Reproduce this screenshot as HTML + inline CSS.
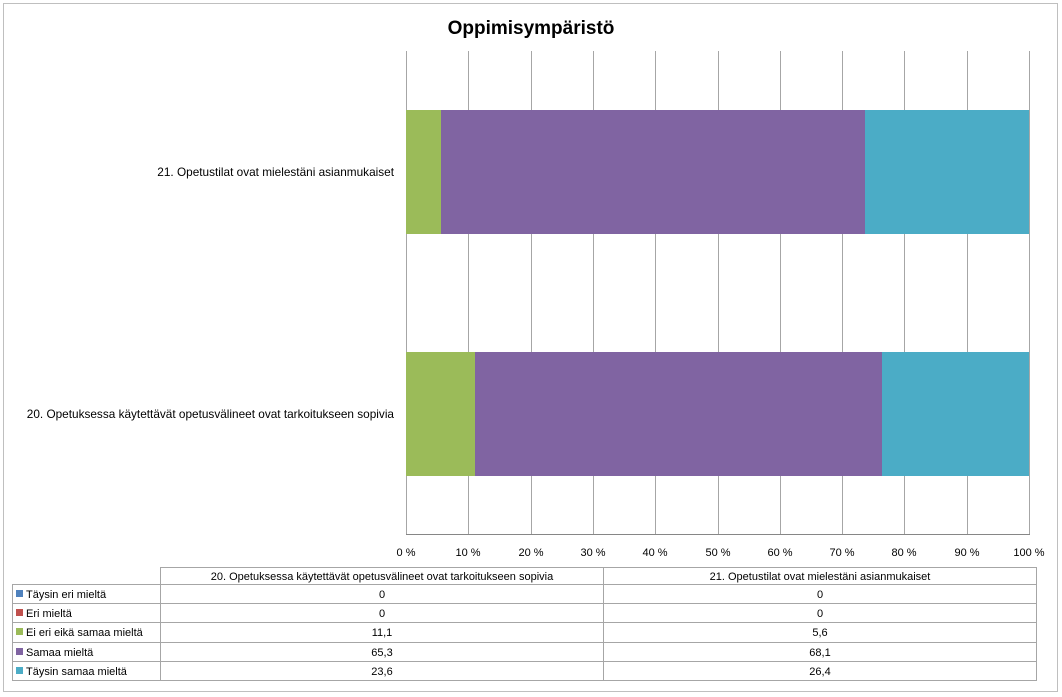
<!DOCTYPE html>
<html><head><meta charset="utf-8"><style>
body{margin:0;background:#fff}
svg{display:block;font-family:"Liberation Sans",sans-serif}
</style></head><body>
<svg width="1062" height="697" viewBox="0 0 1062 697">
<rect x="3.5" y="3.5" width="1054" height="688" fill="#fff" stroke="#bfbfbf"/>
<text x="531" y="34" text-anchor="middle" font-size="19" font-weight="bold" fill="#000">Oppimisympäristö</text>
<g stroke="#a6a6a6" stroke-width="1">
<line x1="406.5" y1="51" x2="406.5" y2="535"/>
<line x1="468.5" y1="51" x2="468.5" y2="535"/>
<line x1="531.5" y1="51" x2="531.5" y2="535"/>
<line x1="593.5" y1="51" x2="593.5" y2="535"/>
<line x1="655.5" y1="51" x2="655.5" y2="535"/>
<line x1="718.5" y1="51" x2="718.5" y2="535"/>
<line x1="780.5" y1="51" x2="780.5" y2="535"/>
<line x1="842.5" y1="51" x2="842.5" y2="535"/>
<line x1="904.5" y1="51" x2="904.5" y2="535"/>
<line x1="967.5" y1="51" x2="967.5" y2="535"/>
<line x1="1029.5" y1="51" x2="1029.5" y2="535"/>
<line x1="406" y1="534.5" x2="1030" y2="534.5" stroke="#868686"/>
</g>
<rect x="406" y="110" width="35" height="124" fill="#9bbb59"/>
<rect x="441" y="110" width="424" height="124" fill="#8064a2"/>
<rect x="865" y="110" width="164" height="124" fill="#4bacc6"/>
<rect x="406" y="352" width="69" height="124" fill="#9bbb59"/>
<rect x="475" y="352" width="407" height="124" fill="#8064a2"/>
<rect x="882" y="352" width="147" height="124" fill="#4bacc6"/>
<g font-size="11.8" fill="#000" text-anchor="end">
<text x="394" y="176">21. Opetustilat ovat mielestäni asianmukaiset</text>
<text x="394" y="418">20. Opetuksessa käytettävät opetusvälineet ovat tarkoitukseen sopivia</text>
</g>
<g font-size="11" fill="#000" text-anchor="middle">
<text x="406" y="556">0 %</text><text x="468" y="556">10 %</text><text x="531" y="556">20 %</text><text x="593" y="556">30 %</text><text x="655" y="556">40 %</text><text x="718" y="556">50 %</text><text x="780" y="556">60 %</text><text x="842" y="556">70 %</text><text x="904" y="556">80 %</text><text x="967" y="556">90 %</text><text x="1029" y="556">100 %</text>
</g>
<g stroke="#a6a6a6" fill="none">
<rect x="160.5" y="567.5" width="876" height="113"/>
<rect x="12.5" y="584.5" width="1024" height="96"/>
<line x1="160.5" y1="584" x2="160.5" y2="681"/>
<line x1="603.5" y1="567" x2="603.5" y2="681"/>
<line x1="12" y1="603.5" x2="1037" y2="603.5"/>
<line x1="12" y1="622.5" x2="1037" y2="622.5"/>
<line x1="12" y1="642.5" x2="1037" y2="642.5"/>
<line x1="12" y1="661.5" x2="1037" y2="661.5"/>
</g>
<g font-size="11" fill="#000">
<text x="382" y="580" text-anchor="middle">20. Opetuksessa käytettävät opetusvälineet ovat tarkoitukseen sopivia</text>
<text x="820" y="580" text-anchor="middle">21. Opetustilat ovat mielestäni asianmukaiset</text>
<rect x="16" y="590" width="7" height="7" fill="#4f81bd"/><text x="26" y="598">Täysin eri mieltä</text>
<rect x="16" y="609" width="7" height="7" fill="#c0504d"/><text x="26" y="617">Eri mieltä</text>
<rect x="16" y="628" width="7" height="7" fill="#9bbb59"/><text x="26" y="636">Ei eri eikä samaa mieltä</text>
<rect x="16" y="648" width="7" height="7" fill="#8064a2"/><text x="26" y="656">Samaa mieltä</text>
<rect x="16" y="667" width="7" height="7" fill="#4bacc6"/><text x="26" y="675">Täysin samaa mieltä</text>
<g text-anchor="middle">
<text x="382" y="598">0</text><text x="820" y="598">0</text>
<text x="382" y="617">0</text><text x="820" y="617">0</text>
<text x="382" y="636">11,1</text><text x="820" y="636">5,6</text>
<text x="382" y="656">65,3</text><text x="820" y="656">68,1</text>
<text x="382" y="675">23,6</text><text x="820" y="675">26,4</text>
</g>
</g>
</svg>
</body></html>
